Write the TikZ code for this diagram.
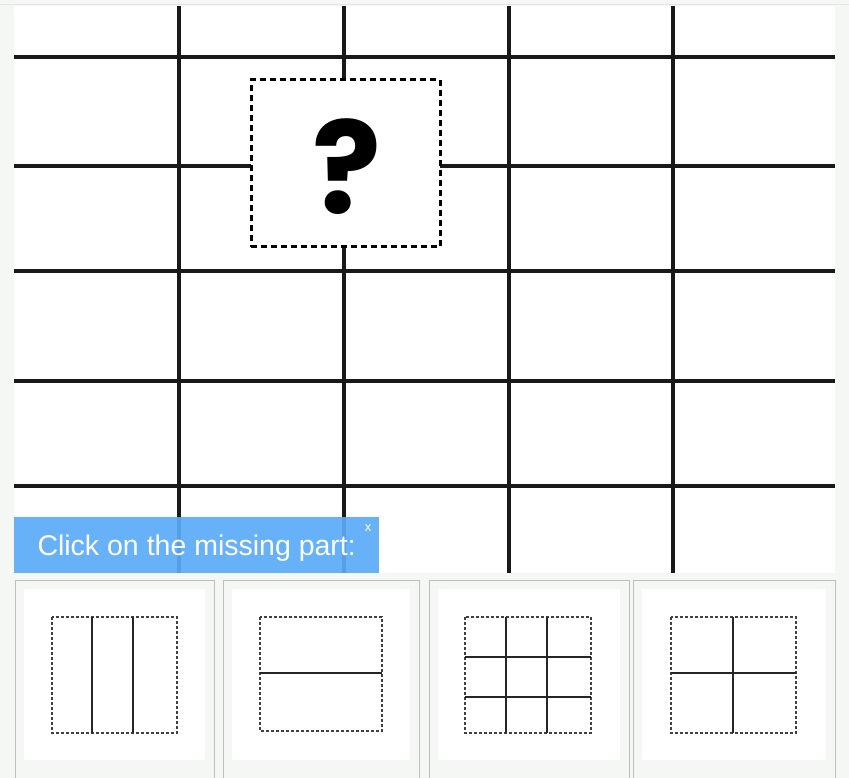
\documentclass[tikz,border=0pt]{standalone}
\usepackage{fontspec}
\setmainfont{Liberation Sans}
\newfontfamily\markfont{Poppins}
\definecolor{pagegray}{HTML}{F5F7F5}
\definecolor{bannerblue}{HTML}{5AABF7}
\definecolor{panelline}{HTML}{BEBEBE}
\tikzset{
  gridline/.style={line width=3.2pt, black!90},
  optbox/.style={dash pattern=on 3pt off 2pt, line width=1.8pt, black!75},
  optline/.style={line width=2pt, black!85},
}
\begin{document}
\begin{tikzpicture}[x=1pt,y=-1pt]
    \fill[pagegray] (0,0) rectangle (849,778);
    \useasboundingbox (0,0) rectangle (849,778);
    \draw[black!10, line width=1pt] (0,5) -- (849,5);
    \fill[white] (14,6) rectangle (835,573);
    % the puzzle grid
    \foreach \y in {57,166,271,381,486}
        \draw[gridline] (14,\y) -- (835,\y);
    \foreach \x in {179,344,509,673}
        \draw[gridline] (\x,6) -- (\x,573);
    % missing piece
    \node[draw, fill=white, dash pattern=on 6pt off 4pt, line width=3pt,
          minimum width=189pt, minimum height=167pt, inner sep=0pt] (gap) at (345.5,163.5) {};
    \node[font=\markfont\bfseries\fontsize{128}{128}\selectfont, inner sep=0pt] (qmark) at (346.5,167) {?};
    % prompt
    \node[fill=bannerblue, fill opacity=0.92, text opacity=1, text=white, anchor=north west,
          minimum width=365pt, minimum height=56pt, inner sep=0pt, text height=27pt, text depth=6pt,
          font=\fontsize{28.5}{28.5}\selectfont] (prompt) at (14,517) {Click on the missing part:};
    \node[text=white, font=\fontsize{13}{13}\selectfont, inner sep=0pt] (close) at (368,528) {x};
    % answer panels
    \foreach \a/\b in {15/214, 223/419, 429/629, 633/835} {
        \draw[panelline, fill=pagegray] (\a,580) rectangle (\b,790);
        \fill[white] (\a+9,589) rectangle (\b-9,760);
    }
    \draw[optbox] (52,617) rectangle (177,733);
    \foreach \x in {92,133}
        \draw[optline] (\x,617) -- (\x,733);
    \draw[optbox] (260,617) rectangle (382,731);
    \draw[optline] (260,673) -- (382,673);
    \draw[optbox] (465,617) rectangle (591,733);
    \foreach \x in {506,547}
        \draw[optline] (\x,617) -- (\x,733);
    \foreach \y in {657,697}
        \draw[optline] (465,\y) -- (591,\y);
    \draw[optbox] (671,617) rectangle (796,733);
    \draw[optline] (733,617) -- (733,733);
    \draw[optline] (671,673) -- (796,673);
\end{tikzpicture}
\end{document}
